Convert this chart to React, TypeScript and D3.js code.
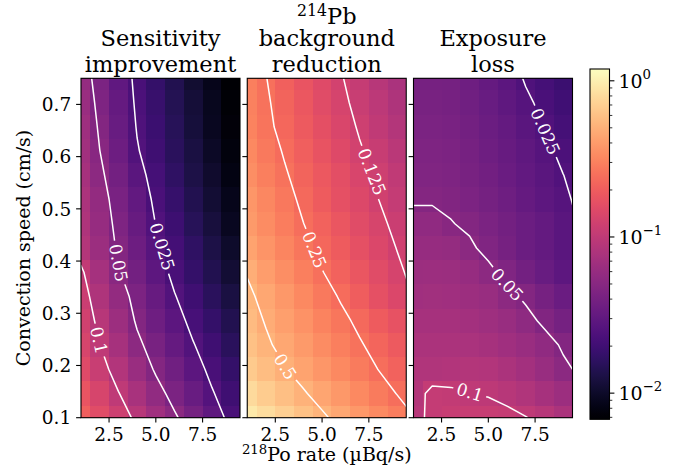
import React from 'react';
import * as d3 from 'd3';

// ---------- data ----------
const X_RATE = [1, 2, 3, 4, 5, 6, 7, 8, 9, 10];
const Y_SPEED = [0.1, 0.14643, 0.19286, 0.23929, 0.28571, 0.33214, 0.37857, 0.425, 0.47143, 0.51786, 0.56429, 0.61071, 0.65714, 0.70357, 0.75];

// rows: bottom (0.1 cm/s) -> top (0.75 cm/s); columns: rate 1..10
const SENSITIVITY = [
  [0.209, 0.158, 0.120, 0.0912, 0.0692, 0.0525, 0.0398, 0.0302, 0.0224, 0.0170],
  [0.180, 0.135, 0.1014, 0.0760, 0.0570, 0.0435, 0.0335, 0.0258, 0.0200, 0.0155],
  [0.153, 0.114, 0.0849, 0.0632, 0.0476, 0.0372, 0.0290, 0.0226, 0.0178, 0.0141],
  [0.137, 0.1007, 0.0738, 0.0541, 0.0416, 0.0325, 0.0255, 0.0200, 0.0158, 0.0126],
  [0.125, 0.0904, 0.0652, 0.0476, 0.0370, 0.0288, 0.0223, 0.0178, 0.0141, 0.0112],
  [0.115, 0.0820, 0.0587, 0.0436, 0.0333, 0.0255, 0.0200, 0.0158, 0.0126, 0.0100],
  [0.105, 0.0735, 0.0515, 0.0389, 0.0296, 0.0226, 0.0178, 0.0141, 0.0112, 0.0089],
  [0.0871, 0.0641, 0.0474, 0.0359, 0.0272, 0.0211, 0.0166, 0.0130, 0.0102, 0.0081],
  [0.0815, 0.0605, 0.0450, 0.0334, 0.0248, 0.0195, 0.0152, 0.0120, 0.0093, 0.0074],
  [0.0791, 0.0578, 0.0423, 0.0309, 0.0231, 0.0181, 0.0142, 0.0111, 0.0087, 0.0069],
  [0.0745, 0.0538, 0.0391, 0.0282, 0.0215, 0.0168, 0.0132, 0.0104, 0.0081, 0.0065],
  [0.0698, 0.0502, 0.0358, 0.0257, 0.0201, 0.0158, 0.0126, 0.0098, 0.0078, 0.0062],
  [0.0667, 0.0475, 0.0339, 0.0244, 0.0192, 0.0151, 0.0119, 0.0093, 0.0074, 0.0059],
  [0.0631, 0.0451, 0.0322, 0.0235, 0.0186, 0.0146, 0.0115, 0.0091, 0.0071, 0.0056],
  [0.0596, 0.0428, 0.0308, 0.0228, 0.0179, 0.0141, 0.0110, 0.0087, 0.0068, 0.0054],
];

const BACKGROUND = [
  [0.951, 0.820, 0.706, 0.610, 0.525, 0.453, 0.390, 0.337, 0.290, 0.249],
  [0.798, 0.690, 0.596, 0.515, 0.445, 0.385, 0.332, 0.287, 0.248, 0.214],
  [0.676, 0.586, 0.508, 0.441, 0.382, 0.331, 0.287, 0.249, 0.216, 0.187],
  [0.603, 0.524, 0.454, 0.394, 0.342, 0.297, 0.258, 0.224, 0.195, 0.169],
  [0.568, 0.489, 0.422, 0.364, 0.313, 0.270, 0.233, 0.201, 0.173, 0.150],
  [0.532, 0.455, 0.389, 0.332, 0.284, 0.242, 0.203, 0.171, 0.144, 0.121],
  [0.490, 0.415, 0.352, 0.299, 0.253, 0.215, 0.183, 0.156, 0.133, 0.113],
  [0.435, 0.372, 0.318, 0.272, 0.232, 0.199, 0.170, 0.145, 0.124, 0.106],
  [0.400, 0.343, 0.293, 0.251, 0.215, 0.184, 0.157, 0.135, 0.115, 0.0986],
  [0.378, 0.323, 0.275, 0.235, 0.200, 0.171, 0.146, 0.1255, 0.106, 0.0908],
  [0.352, 0.301, 0.258, 0.221, 0.190, 0.163, 0.139, 0.120, 0.103, 0.0879],
  [0.333, 0.284, 0.243, 0.207, 0.177, 0.151, 0.129, 0.111, 0.0944, 0.0807],
  [0.313, 0.267, 0.228, 0.194, 0.166, 0.142, 0.121, 0.103, 0.0879, 0.0750],
  [0.306, 0.260, 0.220, 0.187, 0.158, 0.134, 0.114, 0.0964, 0.0817, 0.0692],
  [0.299, 0.252, 0.213, 0.180, 0.152, 0.128, 0.108, 0.0914, 0.0773, 0.0652],
];

const EXPOSURE = [
  [0.0912, 0.1062, 0.1109, 0.1122, 0.1122, 0.1081, 0.1010, 0.0912, 0.0794, 0.0676],
  [0.0871, 0.1076, 0.1047, 0.1007, 0.0977, 0.0912, 0.0832, 0.0741, 0.0661, 0.0575],
  [0.0832, 0.0832, 0.0859, 0.0879, 0.0851, 0.0785, 0.0708, 0.0617, 0.0531, 0.0468],
  [0.0794, 0.0794, 0.0794, 0.0776, 0.0741, 0.0692, 0.0631, 0.0562, 0.0479, 0.0407],
  [0.0741, 0.0750, 0.0741, 0.0716, 0.0676, 0.0624, 0.0550, 0.0468, 0.0398, 0.0339],
  [0.0692, 0.0700, 0.0692, 0.0661, 0.0617, 0.0543, 0.0473, 0.0407, 0.0347, 0.0295],
  [0.0646, 0.0653, 0.0646, 0.0603, 0.0537, 0.0457, 0.0389, 0.0339, 0.0295, 0.0257],
  [0.0603, 0.0610, 0.0596, 0.0525, 0.0457, 0.0403, 0.0355, 0.0316, 0.0282, 0.0251],
  [0.0555, 0.0555, 0.0507, 0.0474, 0.0427, 0.0389, 0.0355, 0.0316, 0.0282, 0.0240],
  [0.0482, 0.0482, 0.0470, 0.0437, 0.0398, 0.0363, 0.0327, 0.0295, 0.0266, 0.0229],
  [0.0462, 0.0462, 0.0452, 0.0417, 0.0380, 0.0347, 0.0313, 0.0282, 0.0251, 0.0224],
  [0.0447, 0.0447, 0.0437, 0.0403, 0.0367, 0.0331, 0.0299, 0.0266, 0.0234, 0.0207],
  [0.0432, 0.0432, 0.0422, 0.0389, 0.0355, 0.0316, 0.0282, 0.0248, 0.0219, 0.0193],
  [0.0417, 0.0417, 0.0407, 0.0376, 0.0339, 0.0302, 0.0263, 0.0232, 0.0204, 0.0180],
  [0.0403, 0.0403, 0.0394, 0.0363, 0.0327, 0.0285, 0.0243, 0.0216, 0.0191, 0.0168],
];

const TITLE_LINES = [
  ['Sensitivity', 'improvement'],
  ['background', 'reduction'],
  ['Exposure', 'loss'],
];
const CONTOUR_LEVELS = [
  [0.025, 0.05, 0.1],
  [0.125, 0.25, 0.5],
  [0.025, 0.05, 0.1],
];
// approximate label anchor positions (data coords)
const LABEL_PANEL = [0, 0, 0, 1, 1, 1, 2, 2, 2];
const LABEL_LEVEL = [0.1, 0.05, 0.025, 0.5, 0.25, 0.125, 0.025, 0.05, 0.1];
const LABEL_X = [2.02, 2.91, 5.26, 3.03, 4.68, 7.58, 8.03, 5.98, 4.02];
const LABEL_Y = [0.249, 0.396, 0.427, 0.198, 0.423, 0.57, 0.648, 0.354, 0.15];

const X_TICKS = [2.5, 5.0, 7.5];
const Y_TICKS = [0.1, 0.2, 0.3, 0.4, 0.5, 0.6, 0.7];
const CBAR_TICKS = [1, 0.1, 0.01];
const CBAR_EXPONENTS = ['0', '\u22121', '\u22122'];
const VMIN = 0.0068;
const VMAX = 1.19;
const X_DOMAIN = [1, 9.5];
const Y_DOMAIN = [0.1, 0.75];

// ---------- layout ----------
const PANEL_LEFT = [81, 247.25, 413.5];
const PANEL_W = 159;
const TOP = 78.3;
const BOTTOM = 417.7;
const CB_X = 590;
const CB_W = 19.5;
const CB_TOP = 69;
const CB_BOTTOM = 419.3;
const FONT = "'DejaVu Serif', serif";
const TICK_FS = 18.5;
const LABEL_FS = 19;
const TITLE_FS = 22.5;
const CLABEL_FS = 17;
const MAJOR = 4.9;
const MINOR = 2.8;

type Pt = [number, number];

function cellEdges(vals: number[], lo: number, hi: number): [number, number][] {
  return vals.map((v, i) => {
    const a = i === 0 ? v - (vals[1] - vals[0]) / 2 : (vals[i - 1] + v) / 2;
    const b = i === vals.length - 1 ? v + (v - vals[i - 1]) / 2 : (v + vals[i + 1]) / 2;
    return [Math.max(a, lo), Math.min(b, hi)];
  });
}

function marching(grid: number[][], xs: number[], ys: number[], level: number): [Pt, Pt][] {
  const segs: [Pt, Pt][] = [];
  const lerp = (a: number, b: number, va: number, vb: number) => a + ((level - va) / (vb - va)) * (b - a);
  for (let j = 0; j < ys.length - 1; j++) {
    for (let i = 0; i < xs.length - 1; i++) {
      const v00 = grid[j][i], v10 = grid[j][i + 1], v01 = grid[j + 1][i], v11 = grid[j + 1][i + 1];
      const pts: (Pt | null)[] = [null, null, null, null];
      if ((v00 >= level) !== (v10 >= level)) pts[0] = [lerp(xs[i], xs[i + 1], v00, v10), ys[j]];
      if ((v10 >= level) !== (v11 >= level)) pts[1] = [xs[i + 1], lerp(ys[j], ys[j + 1], v10, v11)];
      if ((v01 >= level) !== (v11 >= level)) pts[2] = [lerp(xs[i], xs[i + 1], v01, v11), ys[j + 1]];
      if ((v00 >= level) !== (v01 >= level)) pts[3] = [xs[i], lerp(ys[j], ys[j + 1], v00, v01)];
      const present = pts.filter((p) => p !== null) as Pt[];
      if (present.length === 2) {
        segs.push([present[0], present[1]]);
      } else if (present.length === 4) {
        const c = (v00 + v10 + v01 + v11) / 4;
        if ((v00 >= level) === (c >= level)) {
          segs.push([pts[0]!, pts[1]!]);
          segs.push([pts[2]!, pts[3]!]);
        } else {
          segs.push([pts[0]!, pts[3]!]);
          segs.push([pts[1]!, pts[2]!]);
        }
      }
    }
  }
  return segs;
}

function chain(segs: [Pt, Pt][]): Pt[][] {
  const key = (p: Pt) => p[0].toFixed(7) + ',' + p[1].toFixed(7);
  const adj = new Map<string, number[]>();
  segs.forEach((s, idx) => {
    for (const p of s) {
      const k = key(p);
      if (!adj.has(k)) adj.set(k, []);
      adj.get(k)!.push(idx);
    }
  });
  const used = new Array(segs.length).fill(false);
  const lines: Pt[][] = [];
  const extend = (arr: Pt[]) => {
    for (;;) {
      const end = arr[arr.length - 1];
      const cands = (adj.get(key(end)) || []).filter((i) => !used[i]);
      if (!cands.length) break;
      const i = cands[0];
      used[i] = true;
      const s = segs[i];
      arr.push(key(s[0]) === key(end) ? s[1] : s[0]);
    }
  };
  for (let s0 = 0; s0 < segs.length; s0++) {
    if (used[s0]) continue;
    used[s0] = true;
    const line: Pt[] = [segs[s0][0], segs[s0][1]];
    extend(line);
    line.reverse();
    extend(line);
    lines.push(line);
  }
  return lines;
}

function textWidth(s: string, fs: number) {
  let w = 0;
  for (const ch of s) w += ch === '.' ? 0.318 : 0.636;
  return w * fs;
}

export default function App() {
  const color = d3.scaleSequentialLog(d3.interpolateMagma).domain([VMIN, VMAX]);
  const yS = d3.scaleLinear().domain(Y_DOMAIN).range([BOTTOM, TOP]);
  const grids = [SENSITIVITY, BACKGROUND, EXPOSURE];
  const xEdges = cellEdges(X_RATE, X_DOMAIN[0], X_DOMAIN[1]);
  const yEdges = cellEdges(Y_SPEED, Y_DOMAIN[0], Y_DOMAIN[1]);
  const cbS = d3.scaleLog().domain([VMIN, VMAX]).range([CB_BOTTOM, CB_TOP]);

  const minorTicks: number[] = [];
  for (let d = -3; d <= 0; d++) {
    for (let k = 2; k <= 9; k++) {
      const v = k * Math.pow(10, d);
      if (v >= VMIN && v <= VMAX) minorTicks.push(v);
    }
  }
  const gradStops = d3.range(0, 65).map((k) => k / 64);

  const panels = grids.map((grid, k) => {
    const xS = d3.scaleLinear().domain(X_DOMAIN).range([PANEL_LEFT[k], PANEL_LEFT[k] + PANEL_W]);
    const line = d3.line<Pt>().x((p) => xS(p[0])).y((p) => yS(p[1]));
    const contours = CONTOUR_LEVELS[k].map((lv) => ({
      level: lv,
      lines: chain(marching(grid, X_RATE, Y_SPEED, lv)),
    }));
    const labels: { x: number; y: number; a: number; text: string; w: number }[] = [];
    LABEL_PANEL.forEach((p, li) => {
      if (p !== k) return;
      const c = contours.find((cc) => cc.level === LABEL_LEVEL[li]);
      if (!c) return;
      const tx = xS(LABEL_X[li]);
      const ty = yS(LABEL_Y[li]);
      let best = { d: Infinity, x: tx, y: ty, a: 0 };
      for (const ln of c.lines) {
        for (let s = 0; s < ln.length - 1; s++) {
          const ax = xS(ln[s][0]), ay = yS(ln[s][1]);
          const bx = xS(ln[s + 1][0]), by = yS(ln[s + 1][1]);
          const dx = bx - ax, dy = by - ay;
          const L2 = dx * dx + dy * dy;
          if (L2 === 0) continue;
          let t = ((tx - ax) * dx + (ty - ay) * dy) / L2;
          t = Math.max(0, Math.min(1, t));
          const px = ax + t * dx, py = ay + t * dy;
          const dd = (px - tx) ** 2 + (py - ty) ** 2;
          if (dd < best.d) {
            let a = (Math.atan2(dy, dx) * 180) / Math.PI;
            if (a > 90) a -= 180;
            if (a <= -90) a += 180;
            best = { d: dd, x: px, y: py, a };
          }
        }
      }
      const text = String(LABEL_LEVEL[li]);
      labels.push({ x: best.x, y: best.y, a: best.a, text, w: textWidth(text, CLABEL_FS) });
    });
    return { xS, line, contours, labels };
  });

  return (
    <svg
      width={685}
      height={474}
      viewBox="0 0 685 474"
      style={{ position: 'absolute', left: 0, top: 0, background: '#fff' }}
      fontFamily={FONT}
    >
      <defs>
        <linearGradient id="cbgrad" x1="0" y1="1" x2="0" y2="0">
          {gradStops.map((t) => (
            <stop key={t} offset={t} stopColor={d3.interpolateMagma(t)} />
          ))}
        </linearGradient>
        {panels.map((p, k) => (
          <clipPath id={`clip${k}`} key={`c${k}`}>
            <rect x={PANEL_LEFT[k]} y={TOP} width={PANEL_W} height={BOTTOM - TOP} />
          </clipPath>
        ))}
        {panels.map((p, k) => (
          <mask id={`mask${k}`} key={`m${k}`} maskUnits="userSpaceOnUse" x={0} y={0} width={685} height={474}>
            <rect x={0} y={0} width={685} height={474} fill="#fff" />
            {p.labels.map((lb, i) => (
              <rect
                key={i}
                x={-lb.w / 2 - 3.5}
                y={-7}
                width={lb.w + 7}
                height={14}
                fill="#000"
                transform={`translate(${lb.x},${lb.y}) rotate(${lb.a})`}
              />
            ))}
          </mask>
        ))}
      </defs>

      {panels.map((p, k) => (
        <g key={`panel${k}`}>
          <g shapeRendering="crispEdges">
            {grids[k].map((row, j) =>
              row.map((v, i) => {
                const [x0, x1] = xEdges[i];
                const [y0, y1] = yEdges[j];
                if (x1 <= x0 || y1 <= y0) return null;
                return (
                  <rect
                    key={`${i}-${j}`}
                    x={p.xS(x0)}
                    y={yS(y1)}
                    width={p.xS(x1) - p.xS(x0)}
                    height={yS(y0) - yS(y1)}
                    fill={color(v)}
                  />
                );
              })
            )}
          </g>
          <g clipPath={`url(#clip${k})`}>
            <g mask={`url(#mask${k})`}>
              {p.contours.map((c) =>
                c.lines.map((ln, li) => (
                  <path
                    key={`${c.level}-${li}`}
                    d={p.line(ln) || ''}
                    fill="none"
                    stroke="#fff"
                    strokeWidth={1.5}
                    strokeLinejoin="round"
                    strokeLinecap="round"
                  />
                ))
              )}
            </g>
          </g>
          {p.labels.map((lb, i) => (
            <text
              key={`lb${i}`}
              transform={`translate(${lb.x},${lb.y}) rotate(${lb.a})`}
              textAnchor="middle"
              dominantBaseline="central"
              fontSize={CLABEL_FS}
              fill="#fff"
            >
              {lb.text}
            </text>
          ))}
          <rect
            x={PANEL_LEFT[k]}
            y={TOP}
            width={PANEL_W}
            height={BOTTOM - TOP}
            fill="none"
            stroke="#000"
            strokeWidth={1.1}
          />
          {X_TICKS.map((t) => (
            <g key={`xt${t}`}>
              <line x1={p.xS(t)} x2={p.xS(t)} y1={BOTTOM} y2={BOTTOM + MAJOR} stroke="#000" strokeWidth={1.1} />
              <text x={p.xS(t)} y={441} textAnchor="middle" fontSize={TICK_FS} fill="#000">
                {t.toFixed(1)}
              </text>
            </g>
          ))}
          {Y_TICKS.map((t) => (
            <g key={`yt${t}`}>
              <line
                x1={PANEL_LEFT[k] - MAJOR}
                x2={PANEL_LEFT[k]}
                y1={yS(t)}
                y2={yS(t)}
                stroke="#000"
                strokeWidth={1.1}
              />
              {k === 0 && (
                <text
                  x={PANEL_LEFT[0] - MAJOR - 4.9}
                  y={yS(t) + 0.365 * TICK_FS}
                  textAnchor="end"
                  fontSize={TICK_FS}
                  fill="#000"
                >
                  {t.toFixed(1)}
                </text>
              )}
            </g>
          ))}
          <text textAnchor="middle" fontSize={TITLE_FS} fill="#000">
            {TITLE_LINES[k].map((ln, li) => (
              <tspan key={li} x={PANEL_LEFT[k] + PANEL_W / 2} y={71.5 - (TITLE_LINES[k].length - 1 - li) * 25.5}>
                {ln}
              </tspan>
            ))}
          </text>
        </g>
      ))}

      {/* extra top line of the middle title */}
      <text x={PANEL_LEFT[1] + PANEL_W / 2} y={23.5} textAnchor="middle" fontSize={TITLE_FS} fill="#000">
        <tspan fontSize={TITLE_FS * 0.7} dy={-7.5}>214</tspan>
        <tspan dy={7.5}>Pb</tspan>
      </text>

      {/* axis labels */}
      <text x={PANEL_LEFT[1] + PANEL_W / 2} y={461} textAnchor="middle" fontSize={LABEL_FS} fill="#000">
        <tspan fontSize={LABEL_FS * 0.7} dy={-7}>218</tspan>
        <tspan dy={7}>Po rate (µBq/s)</tspan>
      </text>
      <text
        transform={`translate(30,${(TOP + BOTTOM) / 2}) rotate(-90)`}
        textAnchor="middle"
        fontSize={LABEL_FS}
        fill="#000"
      >
        Convection speed (cm/s)
      </text>

      {/* colorbar */}
      <rect x={CB_X} y={CB_TOP} width={CB_W} height={CB_BOTTOM - CB_TOP} fill="url(#cbgrad)" />
      <rect x={CB_X} y={CB_TOP} width={CB_W} height={CB_BOTTOM - CB_TOP} fill="none" stroke="#000" strokeWidth={1.1} />
      {minorTicks.map((v) => (
        <line key={`mn${v}`} x1={CB_X + CB_W} x2={CB_X + CB_W + MINOR} y1={cbS(v)} y2={cbS(v)} stroke="#000" strokeWidth={0.8} />
      ))}
      {CBAR_TICKS.map((v, i) => (
        <g key={`cb${v}`}>
          <line x1={CB_X + CB_W} x2={CB_X + CB_W + MAJOR} y1={cbS(v)} y2={cbS(v)} stroke="#000" strokeWidth={1.1} />
          <text x={CB_X + CB_W + MAJOR + 4} y={cbS(v) + 7} fontSize={LABEL_FS} fill="#000">
            10
            <tspan fontSize={LABEL_FS * 0.7} dy={-9}>
              {CBAR_EXPONENTS[i]}
            </tspan>
          </text>
        </g>
      ))}
    </svg>
  );
}
